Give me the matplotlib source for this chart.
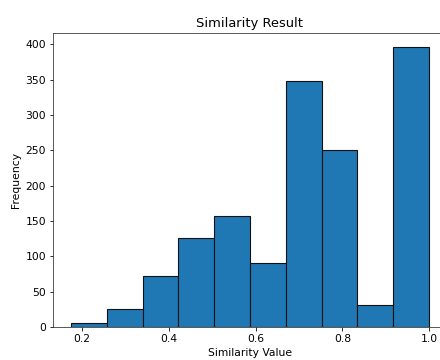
import matplotlib
matplotlib.use("Agg")
import matplotlib.pyplot as plt
import numpy as np

# Histogram data
min_value = 0.174
max_value = 1.0
counts = [6, 25, 72, 126, 157, 91, 348, 250, 31, 396]

edges = np.linspace(min_value, max_value, len(counts) + 1)
centers = (edges[:-1] + edges[1:]) / 2

plt.rcParams["font.size"] = 10.8
plt.rcParams["axes.titlesize"] = 13
plt.rcParams["axes.edgecolor"] = "#333333"

fig = plt.figure(figsize=(440 / 72, 360 / 72), dpi=72)
ax = fig.add_axes([53 / 440, 1 - 327 / 360, (447 - 53) / 440, (327 - 33) / 360])
ax.hist(centers, bins=edges, weights=counts, color="#1f77b4", edgecolor="#111111", linewidth=1.1)
ax.set_title("Similarity Result")
ax.set_xlabel("Similarity Value")
ax.set_ylabel("Frequency")
fig.savefig("out.png", dpi=72)
